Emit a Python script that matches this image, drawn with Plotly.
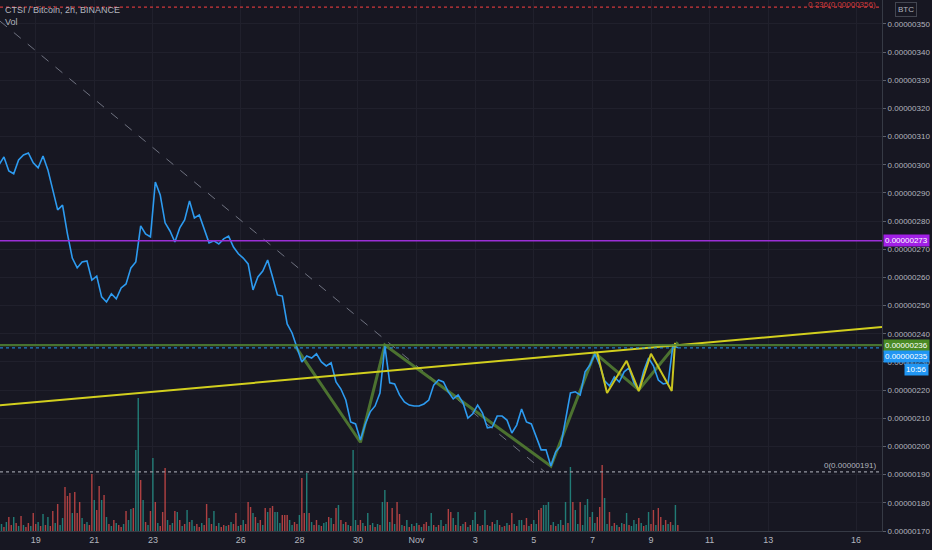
import pandas as pd
import plotly.graph_objects as go

# CTSI / BTC, 2h candles (Binance). Prices in satoshi (1e-8 BTC), sampled every 4h
price_sat = [
    300.0, 302.8, 297.8, 296.8, 301.7, 303.5, 304.2, 300.7, 298.9, 303.1,
    298.2, 291.1, 284.0, 285.7, 275.5, 266.9, 263.4, 265.5, 265.9, 259.1,
    260.5, 253.1, 251.3, 254.2, 252.4, 256.3, 257.7, 263.4, 265.5, 278.3,
    275.5, 274.4, 293.9, 289.3, 279.4, 276.5, 272.6, 277.6, 280.4, 287.2,
    281.1, 282.2, 277.6, 272.3, 273.0, 271.9, 273.7, 274.7, 270.8, 268.4,
    266.9, 264.8, 255.6, 260.2, 262.3, 266.2, 260.2, 253.8, 253.4, 243.5,
    240.3, 235.3, 230.0, 232.1, 231.4, 232.9, 230.0, 228.6, 229.7, 222.9,
    220.4, 216.5, 208.7, 208.0, 202.3, 208.0, 212.3, 214.4, 219.0, 235.7,
    222.6, 222.2, 218.3, 215.8, 214.7, 214.4, 214.4, 215.1, 216.5, 221.8,
    223.6, 222.9, 219.4, 216.9, 218.3, 215.5, 210.1, 211.6, 214.7, 211.9,
    206.6, 206.9, 210.8, 210.8, 209.4, 204.8, 207.6, 213.3, 208.7, 208.0,
    203.4, 198.8, 198.8, 193.1, 198.1, 200.2, 209.4, 219.0, 219.4, 218.3,
    226.5, 228.9, 232.9, 228.9, 223.3, 221.5, 224.7, 222.9, 226.5, 227.9,
    222.6, 220.1, 226.8, 231.4, 228.6, 223.6, 222.2, 222.6, 236.0, 235.0,
]
price_time = pd.date_range("2020-10-17 18:00", periods=len(price_sat), freq="4h")

# volume per 2h candle (thousand CTSI)
volume_k = [
    5, 7, 4, 9, 14, 6, 14, 8, 5, 15,
    6, 4, 8, 5, 18, 7, 9, 5, 17, 6,
    14, 5, 20, 8, 27, 6, 13, 44, 35, 38,
    18, 39, 18, 29, 13, 7, 9, 6, 57, 31,
    21, 45, 31, 36, 14, 7, 5, 11, 8, 6,
    4, 7, 20, 11, 22, 23, 81, 133, 51, 31,
    9, 6, 20, 73, 29, 8, 5, 19, 63, 11,
    6, 8, 20, 19, 11, 5, 7, 21, 9, 11,
    5, 7, 4, 8, 6, 27, 13, 7, 20, 5,
    8, 4, 6, 5, 6, 9, 7, 18, 5, 6,
    11, 7, 29, 24, 18, 14, 8, 11, 6, 23,
    19, 23, 25, 19, 19, 8, 16, 16, 16, 11,
    6, 9, 7, 16, 53, 18, 58, 18, 9, 6,
    11, 6, 5, 8, 9, 14, 13, 7, 23, 26,
    11, 7, 9, 6, 5, 81, 11, 6, 11, 8,
    5, 18, 6, 8, 4, 7, 6, 29, 41, 29,
    9, 23, 7, 29, 17, 6, 5, 11, 4, 7,
    5, 8, 6, 4, 7, 9, 5, 18, 6, 4,
    6, 11, 5, 7, 22, 19, 13, 6, 19, 5,
    7, 9, 4, 6, 11, 19, 7, 5, 6, 21,
    6, 5, 9, 7, 11, 6, 4, 5, 8, 6,
    18, 7, 5, 11, 11, 6, 13, 5, 7, 11,
    7, 21, 23, 26, 26, 29, 6, 9, 5, 7,
    11, 6, 29, 8, 64, 29, 21, 7, 29, 6,
    26, 32, 14, 19, 8, 14, 24, 66, 33, 7,
    19, 5, 8, 6, 4, 8, 7, 18, 6, 5,
    11, 7, 13, 8, 5, 6, 19, 7, 21, 6,
    23, 14, 6, 11, 7, 9, 6, 26, 6,
]
# u = close above open, d = close below open
vol_dir = "".join([
    "dududdudud", "udduddudud", "udduduuddd", "udddududdu", "ddudududud",
    "duduuduudu", "dudududddu", "dududududu", "udduddudud", "uddududdud",
    "udddududud", "udduuudddu", "udduddudud", "duduududdu", "dududuuddu",
    "dudududuud", "ududdududu", "dududduudu", "dududdudud", "ududuududu",
    "duduududud", "duduuddudu", "udduuududu", "udududuudu", "uuduuddduu",
    "dududududu", "uududuuddu", "ddududuud",
])
vol_time = pd.date_range("2020-10-17 18:00", periods=len(volume_k), freq="2h")

# drawings on the chart (satoshi)
fib_0236 = 356
fib_0 = 191
purple_level = 273
green_level = 236
last_price = 235

trend_time = ["2020-10-17 18:46", "2020-11-16 21:13"]
trend_sat = [214.6, 242.4]

fib_diag_time = ["2020-10-17 18:46", "2020-11-05 09:00"]
fib_diag_sat = [351, 191]

pattern_time = ["2020-10-27 20:00", "2020-10-30 02:00", "2020-10-30 22:00", "2020-11-05 14:00",
                "2020-11-07 02:00", "2020-11-08 14:00", "2020-11-09 22:00"]
pattern_sat = [236, 201.5, 236, 193, 233.2, 220.1, 237]

zigzag_time = ["2020-11-07 04:00", "2020-11-07 12:00", "2020-11-08 04:00", "2020-11-08 14:00",
               "2020-11-09 00:00", "2020-11-09 17:00", "2020-11-09 19:40"]
zigzag_sat = [233.2, 219.0, 230.4, 219.7, 232.9, 219.7, 236.8]

date_ticks = ["2020-10-19", "2020-10-21", "2020-10-23", "2020-10-26", "2020-10-28", "2020-10-30",
              "2020-11-01", "2020-11-03", "2020-11-05", "2020-11-07", "2020-11-09", "2020-11-11",
              "2020-11-13", "2020-11-16"]
date_labels = ["19", "21", "23", "26", "28", "30", "Nov", "3", "5", "7", "9", "11", "13", "16"]
price_ticks_sat = [170, 180, 190, 200, 210, 220, 230, 240, 250, 260, 270, 280, 290, 300,
                   310, 320, 330, 340, 350]

SAT = 1e-8
bg = "#171722"
grid = "#20202c"
axis_col = "#363a45"
txt = "#b2b5be"
font = "Liberation Sans"

def btc(vals):
    return [v * SAT for v in vals]

fig = go.Figure()

# volume underneath everything
bar_colors = ["rgba(38,166,154,0.7)" if c == "u" else "rgba(239,83,80,0.7)" for c in vol_dir]
fig.add_trace(go.Bar(x=vol_time, y=volume_k, marker_color=bar_colors, marker_line_width=0,
                     width=4.2e6, yaxis="y2", hoverinfo="skip", showlegend=False))

# fib trend line (dashed grey)
fig.add_trace(go.Scatter(x=fib_diag_time, y=btc(fib_diag_sat), mode="lines",
                         line=dict(color="#6f7280", width=1, dash="dash"),
                         hoverinfo="skip", showlegend=False))

# green harmonic pattern
fig.add_trace(go.Scatter(x=pattern_time, y=btc(pattern_sat), mode="lines",
                         line=dict(color="rgba(86,130,50,0.85)", width=3),
                         hoverinfo="skip", showlegend=False))

# price line
fig.add_trace(go.Scatter(x=price_time, y=btc(price_sat), mode="lines",
                         line=dict(color="#2d9bf0", width=1.6),
                         hoverinfo="skip", showlegend=False))

# yellow zigzag
fig.add_trace(go.Scatter(x=zigzag_time, y=btc(zigzag_sat), mode="lines",
                         line=dict(color="#c9c41f", width=2),
                         hoverinfo="skip", showlegend=False))

# yellow trendline
fig.add_trace(go.Scatter(x=trend_time, y=btc(trend_sat), mode="lines",
                         line=dict(color="#d2cf1e", width=2),
                         hoverinfo="skip", showlegend=False))

shapes = [
    dict(type="line", xref="paper", x0=0, x1=1, y0=fib_0236 * SAT, y1=fib_0236 * SAT,
         line=dict(color="#d0393b", width=1.3, dash="dot")),
    dict(type="line", xref="paper", x0=0, x1=1, y0=fib_0 * SAT, y1=fib_0 * SAT,
         line=dict(color="#9598a1", width=1.3, dash="dot")),
    dict(type="line", xref="paper", x0=0, x1=1, y0=purple_level * SAT, y1=purple_level * SAT,
         line=dict(color="#9b2fd6", width=1.5)),
    dict(type="line", xref="paper", x0=0, x1=1, y0=green_level * SAT, y1=green_level * SAT,
         line=dict(color="rgba(80,130,50,0.85)", width=2.2)),
    dict(type="line", xref="paper", x0=0, x1=1, y0=last_price * SAT, y1=last_price * SAT,
         line=dict(color="#2196f3", width=1, dash="dot")),
]

small = dict(family=font, size=8, color=txt)
label_font = dict(family=font, size=8, color="#ffffff")
annotations = [
    dict(text="CTSI / Bitcoin, 2h, BINANCE", xref="paper", yref="paper", x=0, y=1,
         xanchor="left", yanchor="top", xshift=3, yshift=-3, showarrow=False,
         font=dict(family=font, size=9, color=txt)),
    dict(text="Vol", xref="paper", yref="paper", x=0, y=1, xanchor="left", yanchor="top",
         xshift=3, yshift=-15, showarrow=False, font=dict(family=font, size=9, color=txt)),
    dict(text="0.236(0.00000356)", xref="paper", x=878 / 882, y=fib_0236 * SAT,
         xanchor="right", yanchor="middle", yshift=3, showarrow=False,
         font=dict(family=font, size=8, color="#d0393b")),
    dict(text="0(0.00000191)", xref="paper", x=878 / 882, y=fib_0 * SAT,
         xanchor="right", yanchor="bottom", showarrow=False, font=small),
    dict(text="BTC", xref="paper", yref="paper", x=906 / 882, y=1 - 10 / 531,
         xanchor="center", yanchor="middle", showarrow=False, font=small,
         bordercolor="#434651", borderwidth=1, borderpad=2),
    dict(text="0.00000273", xref="paper", x=1, y=purple_level * SAT, xanchor="left",
         xshift=1, showarrow=False, font=label_font, bgcolor="#a11fe6", borderpad=1),
    dict(text="0.00000236", xref="paper", x=1, y=green_level * SAT, xanchor="left",
         xshift=1, showarrow=False, font=label_font, bgcolor="#4a8a24", borderpad=1),
    dict(text="0.00000235", xref="paper", x=1, y=last_price * SAT, xanchor="left",
         xshift=1, yshift=-9, showarrow=False, font=label_font, bgcolor="#2196f3", borderpad=1),
    dict(text="10:56", xref="paper", x=929 / 882, y=last_price * SAT, xanchor="right",
         yshift=-22, showarrow=False, font=label_font, bgcolor="#2196f3", borderpad=1),
]

fig.update_layout(
    width=932, height=550,
    margin=dict(l=0, r=50, t=0, b=19),
    paper_bgcolor=bg, plot_bgcolor=bg,
    showlegend=False,
    shapes=shapes,
    annotations=annotations,
    xaxis=dict(
        type="date",
        range=["2020-10-17 18:46", "2020-11-16 21:13"],
        tickvals=date_ticks, ticktext=date_labels,
        tickfont=dict(family=font, size=9, color=txt),
        showgrid=True, gridcolor=grid, gridwidth=1,
        zeroline=False, showline=True, linecolor=axis_col, linewidth=1,
        ticks="", fixedrange=True,
    ),
    yaxis=dict(
        side="right",
        range=[170.0 * SAT, 358.5 * SAT],
        tickvals=btc(price_ticks_sat), tickformat=".8f",
        tickfont=dict(family=font, size=8, color=txt),
        showgrid=True, gridcolor=grid, gridwidth=1,
        zeroline=False, showline=True, linecolor=axis_col, linewidth=1,
        ticks="outside", ticklen=3, tickcolor="#5d606b", fixedrange=True,
    ),
    yaxis2=dict(overlaying="y", range=[0, 531], visible=False, fixedrange=True),
)

# page has a default 8px body margin; drop it so the 932x550 figure fills the window
fig.write_html("out.html", config={"displayModeBar": False},
               post_script="document.body.style.margin='0';document.body.style.background='#171722';")
